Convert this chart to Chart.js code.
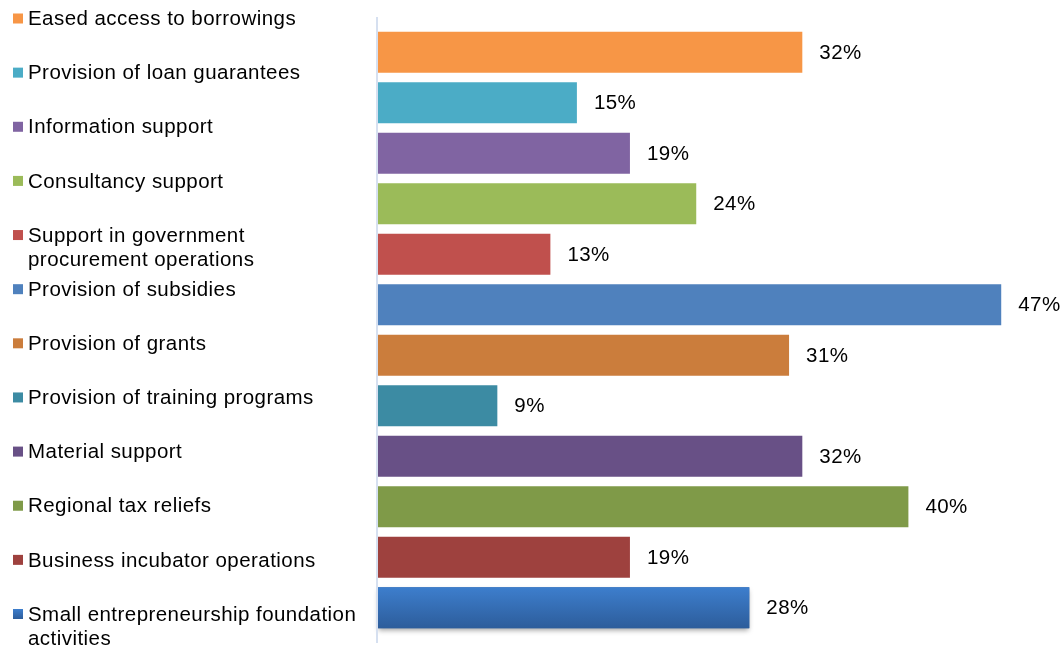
<!DOCTYPE html>
<html>
<head>
<meta charset="utf-8">
<script src="https://cdn.jsdelivr.net/npm/chart.js@4.4.1/dist/chart.umd.min.js"></script>
<style>
	html, body { margin:0; padding:0; background:#fff; }
	#wrap { width:1063px; height:650px; position:relative; }
</style>
</head>
<body>
<div id="wrap"><canvas id="chart"></canvas></div>
<script>
const categories = [
	'Eased access to borrowings',
	'Provision of loan guarantees',
	'Information support',
	'Consultancy support',
	['Support in government', 'procurement operations'],
	'Provision of subsidies',
	'Provision of grants',
	'Provision of training programs',
	'Material support',
	'Regional tax reliefs',
	'Business incubator operations',
	['Small entrepreneurship foundation', 'activities']
]
const values = [32, 15, 19, 24, 13, 47, 31, 9, 32, 40, 19, 28]
const colors = ['#f79646', '#4bacc6', '#8064a2', '#9bbb59', '#c0504d', '#4f81bd',
	'#cb7d3c', '#3c8ba3', '#685086', '#7f9a48', '#9e413e', '#3a78c6']

const FONT = '20.5px "Liberation Sans", Arial, sans-serif'
const BAR_PCT = 0.81


function barColor(ctx){
	const i = ctx.dataIndex
	if(i !== 11) return colors[i]
	const y = ctx.chart.scales.y
	if(!y || !Number.isFinite(y.height) || y.height <= 0) return colors[i]
	const cy = y.getPixelForValue(i)
	const half = (y.height / categories.length) * BAR_PCT / 2
	if(!Number.isFinite(cy)) return colors[i]
	const g = ctx.chart.ctx.createLinearGradient(0, cy - half, 0, cy + half)
	g.addColorStop(0, '#3d7ecd')
	g.addColorStop(1, '#2d5d9b')
	return g
}


// legend on the left, Excel-style
const sideLegend = {
	id:'sideLegend',
	afterDraw(chart){
		const c = chart.ctx
		const top = 18.5, step = (614 - 18.5) / 11
		c.save()
		c.font = FONT
		c.letterSpacing = '0.45px'
		c.textBaseline = 'middle'
		c.textAlign = 'left'
		categories.forEach((lab, i) => {
			const y = top + i * step
			if(i === 11){
				const g = c.createLinearGradient(0, y - 5, 0, y + 5)
				g.addColorStop(0, '#3d7ecd')
				g.addColorStop(1, '#2d5d9b')
				c.fillStyle = g
			} else c.fillStyle = colors[i]
			c.fillRect(13, y - 5, 10, 10)
			c.fillStyle = '#000'
			const lines = Array.isArray(lab) ? lab : [lab]
			lines.forEach((t, k) => c.fillText(t, 28, y + 1 + k * 24))
		})
		c.restore()
	}
}

// value labels + axis line + shadow on last bar
const extras = {
	id:'extras',
	beforeDatasetsDraw(chart){
		const c = chart.ctx
		const el = chart.getDatasetMeta(0).data[11]
		if(!el || !Number.isFinite(el.height)) return
		c.save()
		c.shadowColor = 'rgba(0,0,0,0.35)'
		c.shadowBlur = 5
		c.shadowOffsetY = 3
		c.fillStyle = '#2d5d9b'
		c.fillRect(el.base, el.y - el.height / 2, el.x - el.base, el.height)
		c.restore()
	},
	afterDatasetsDraw(chart){
		const c = chart.ctx
		const area = chart.chartArea
		const x0 = chart.scales.x.getPixelForValue(0)
		c.save()
		c.strokeStyle = '#d6e0f0'
		c.lineWidth = 2
		c.beginPath()
		c.moveTo(x0 - 1, area.top - 10)
		c.lineTo(x0 - 1, area.bottom + 10)
		c.stroke()
		c.font = FONT
		c.letterSpacing = '0.45px'
		c.fillStyle = '#000'
		c.textBaseline = 'middle'
		c.textAlign = 'left'
		chart.getDatasetMeta(0).data.forEach((bar, i) => {
			c.fillText(values[i] + '%', bar.x + 17, bar.y + 1)
		})
		c.restore()
	}
}


new Chart(document.getElementById('chart'), {
	type:'bar',
	data:{
		labels:categories,
		datasets:[
			{
				data:values,
				backgroundColor:barColor,
				borderWidth:0,
				categoryPercentage:1,
				barPercentage:BAR_PCT
			}
		]
	},
	options:{
		indexAxis:'y',
		responsive:true,
		maintainAspectRatio:false,
		animation:false,
		layout:{
			padding:{ left:378, right:22, top:27, bottom:17 }
		},
		plugins:{
			legend:{ display:false },
			tooltip:{ enabled:false }
		},
		scales:{
			x:{
				min:0,
				max:50,
				display:false
			},
			y:{
				display:false
			}
		}
	},
	plugins:[sideLegend, extras]
})
</script>
</body>
</html>
